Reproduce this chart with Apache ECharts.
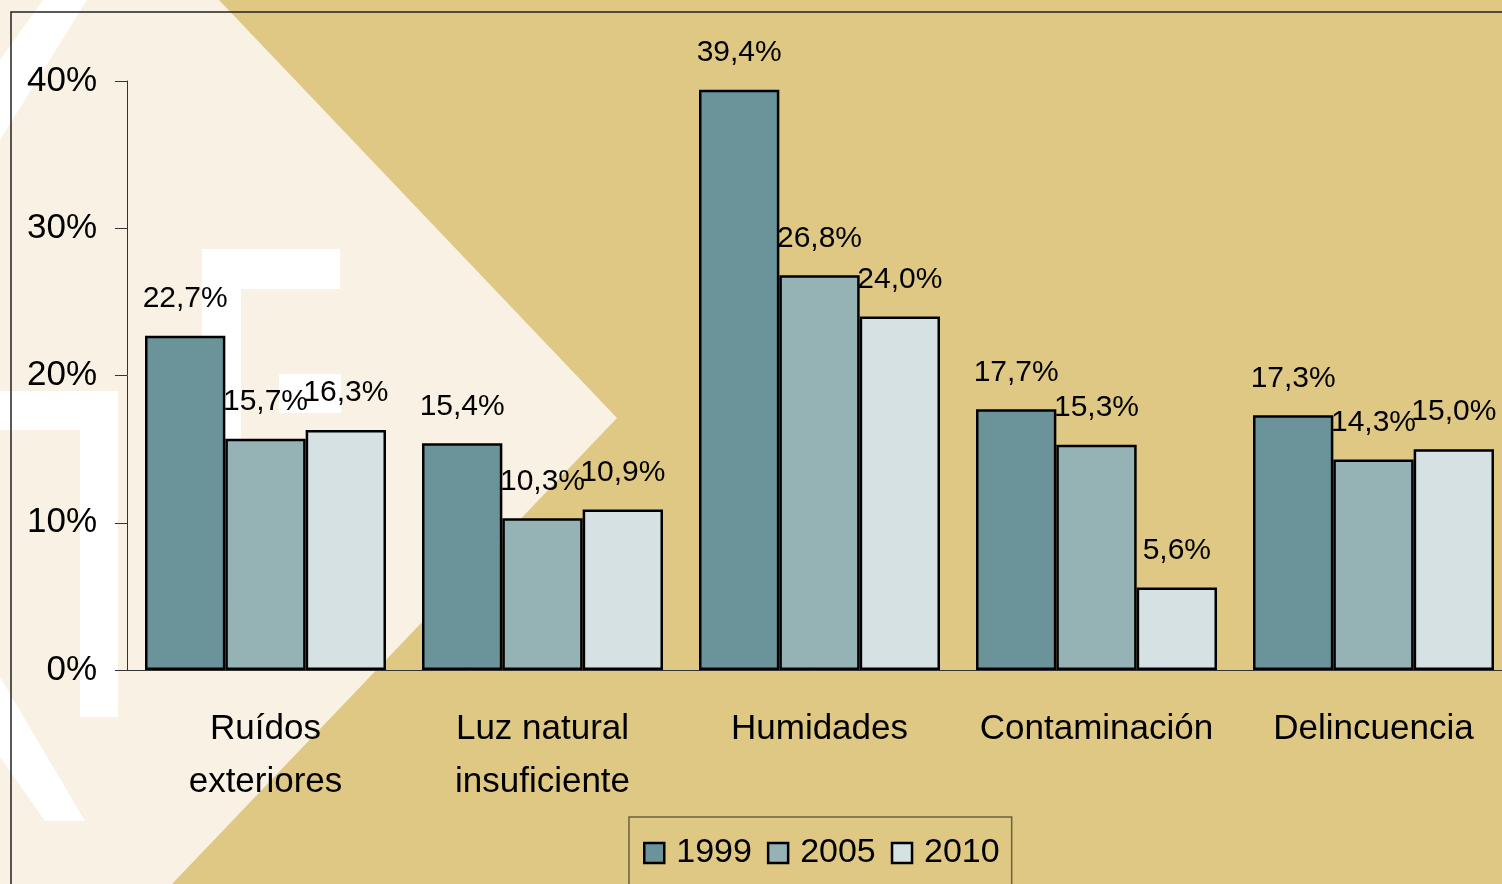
<!DOCTYPE html>
<html>
<head>
<meta charset="utf-8">
<script src="https://cdn.jsdelivr.net/npm/echarts@6/dist/echarts.min.js"></script>
<style>
  html, body { margin: 0; padding: 0; }
  #main { width: 1502px; height: 884px; }
</style>
</head>
<body>
<div id="main"></div>
<script>
// datos
var categories = ['Ruídos\nexteriores', 'Luz natural\ninsuficiente', 'Humidades', 'Contaminación', 'Delincuencia']
var years = ['1999', '2005', '2010']
var data1999 = [22.7, 15.4, 39.4, 17.7, 17.3]
var data2005 = [15.7, 10.3, 26.8, 15.3, 14.3]
var data2010 = [16.3, 10.9, 24.0, 5.6, 15.0]
var yTicks = [0, 10, 20, 30, 40]

var font = '"Liberation Sans", Arial, sans-serif'
var colorArr = ['#6a9499', '#95b3b5', '#d5e1e2']

var myChart = echarts.init(document.getElementById('main'))

function makeSeries(name, values, color) {
  return {
    name: name,
    type: 'bar',
    data: values,
    barGap: 0,
    barCategoryGap: '13%',
    itemStyle: { color: color, borderColor: '#000', borderWidth: 2.5 },
    label: {
      show: true,
      position: 'top',
      distance: 22,
      color: '#000',
      fontFamily: font,
      fontSize: 30,
      formatter: function (p) {
        return p.value.toFixed(1).replace('.', ',') + '%'
      }
    }
  }
}

var option = {
  backgroundColor: '#dec883',
  animation: false,
  graphic: [
    // fondo crema
    { type: 'polygon', z: -100, silent: true,
      shape: { points: [[0, 0], [219, 0], [617, 418], [172, 884], [0, 884]] },
      style: { fill: '#f8f1e4' } },
    // formas blancas del logo
    { type: 'polygon', z: -90, silent: true,
      shape: { points: [[43, 0], [87, 0], [0, 140], [0, 60]] },
      style: { fill: '#ffffff' } },
    { type: 'polygon', z: -90, silent: true,
      shape: { points: [[0, 677], [85, 821], [45, 821], [0, 757]] },
      style: { fill: '#ffffff' } },
    { type: 'rect', z: -90, silent: true,
      shape: { x: 0, y: 391, width: 118, height: 39 }, style: { fill: '#ffffff' } },
    { type: 'rect', z: -90, silent: true,
      shape: { x: 80, y: 391, width: 38, height: 326 }, style: { fill: '#ffffff' } },
    { type: 'rect', z: -90, silent: true,
      shape: { x: 202, y: 249, width: 138, height: 40 }, style: { fill: '#ffffff' } },
    { type: 'rect', z: -90, silent: true,
      shape: { x: 202, y: 249, width: 39, height: 350 }, style: { fill: '#ffffff' } },
    { type: 'rect', z: -90, silent: true,
      shape: { x: 279, y: 374, width: 62, height: 39 }, style: { fill: '#ffffff' } },
    // marco
    { type: 'polyline', z: -80, silent: true,
      shape: { points: [[11, 900], [11, 12], [1510, 12]] },
      style: { stroke: '#222', lineWidth: 1.5, fill: null } }
  ],
  grid: {
    left: 127,
    top: 81,
    width: 1385,
    height: 589,
    containLabel: false,
    outerBoundsMode: 'none'
  },
  legend: {
    data: years,
    left: 629,
    top: 817,
    orient: 'horizontal',
    icon: 'rect',
    itemWidth: 20,
    itemHeight: 20,
    itemGap: 15,
    padding: [19, 12, 44, 14],
    borderColor: '#6b6040',
    borderWidth: 1.5,
    itemStyle: { borderColor: '#000', borderWidth: 2.5 },
    textStyle: {
      color: '#000',
      fontFamily: font,
      fontSize: 34,
      padding: [0, 0, 0, 7]
    }
  },
  xAxis: [{
    type: 'category',
    data: categories,
    axisLine: { lineStyle: { color: '#333', width: 1 } },
    axisTick: { length: 12, lineStyle: { color: '#333' } },
    axisLabel: {
      color: '#000',
      fontFamily: font,
      fontSize: 35,
      lineHeight: 53,
      margin: 33,
      interval: 0
    }
  }],
  yAxis: [{
    type: 'value',
    min: yTicks[0],
    max: yTicks[yTicks.length - 1],
    interval: 10,
    splitLine: { show: false },
    axisLine: { show: true, lineStyle: { color: '#333', width: 1 } },
    axisTick: { show: true, length: 12, lineStyle: { color: '#333' } },
    axisLabel: {
      color: '#000',
      fontFamily: font,
      fontSize: 35,
      margin: 30,
      formatter: '{value}%'
    }
  }],
  series: [
    makeSeries(years[0], data1999, colorArr[0]),
    makeSeries(years[1], data2005, colorArr[1]),
    makeSeries(years[2], data2010, colorArr[2])
  ]
}
myChart.setOption(option)
</script>
</body>
</html>
